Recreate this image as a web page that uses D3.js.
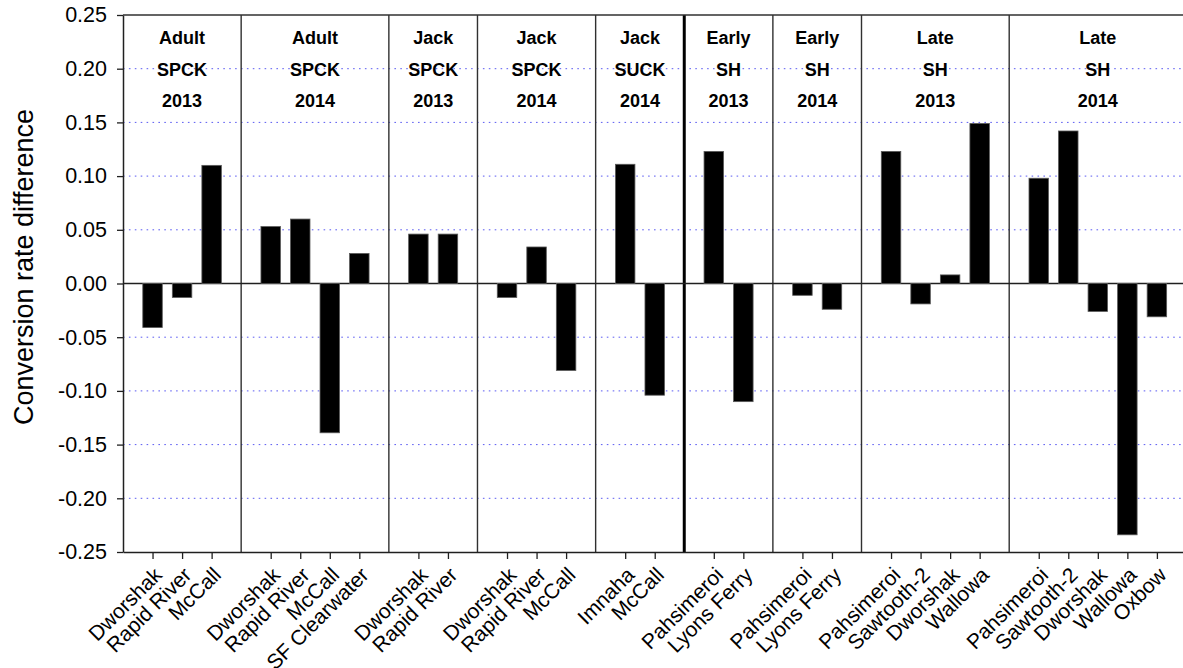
<!DOCTYPE html>
<html>
<head>
<meta charset="utf-8">
<script src="https://cdn.jsdelivr.net/npm/d3@7"></script>
<style>
  html, body { margin: 0; padding: 0; background: #fff; }
  svg { display: block; font-family: Arial, "Liberation Sans", sans-serif; }
</style>
</head>
<body>
<svg id="chart" width="1183" height="668"></svg>
<script>
// Release groups: three header lines each
const groupHeaders = [
  ["Adult", "SPCK", "2013"],
  ["Adult", "SPCK", "2014"],
  ["Jack", "SPCK", "2013"],
  ["Jack", "SPCK", "2014"],
  ["Jack", "SUCK", "2014"],
  ["Early", "SH", "2013"],
  ["Early", "SH", "2014"],
  ["Late", "SH", "2013"],
  ["Late", "SH", "2014"]
];

// Hatchery / stock names within each group
const groupSites = [
  ["Dworshak", "Rapid River", "McCall"],
  ["Dworshak", "Rapid River", "McCall", "SF Clearwater"],
  ["Dworshak", "Rapid River"],
  ["Dworshak", "Rapid River", "McCall"],
  ["Imnaha", "McCall"],
  ["Pahsimeroi", "Lyons Ferry"],
  ["Pahsimeroi", "Lyons Ferry"],
  ["Pahsimeroi", "Sawtooth-2", "Dworshak", "Wallowa"],
  ["Pahsimeroi", "Sawtooth-2", "Dworshak", "Wallowa", "Oxbow"]
];

// Conversion rate difference for each site
const groupValues = [
  [-0.041, -0.013, 0.110],
  [0.053, 0.060, -0.139, 0.028],
  [0.046, 0.046],
  [-0.013, 0.034, -0.081],
  [0.111, -0.104],
  [0.123, -0.110],
  [-0.011, -0.024],
  [0.123, -0.019, 0.008, 0.149],
  [0.098, 0.142, -0.026, -0.234, -0.031]
];

const yTicks = [0.25, 0.20, 0.15, 0.10, 0.05, 0.00, -0.05, -0.10, -0.15, -0.20, -0.25];
const yTitle = "Conversion rate difference";
// Heavy divider after this group (Chinook | steelhead)
const speciesBreakAfter = 4;

// ---- layout ----
const svg = d3.select("#chart");
const plotLeft = 123, plotTop = 15, plotBottom = 552;
const slotW = 29.54;

// Flatten groups into slot positions: each group gets one empty slot before its bars
const bars = [];
const boundaries = [];
let pos = 0;
groupSites.forEach((sites, g) => {
  const start = pos;
  sites.forEach((name, i) => {
    pos += 1;
    bars.push({ name, value: groupValues[g][i], pos, group: g });
  });
  pos += 1;
  boundaries.push({ pos, group: g });
  groupHeaders[g].start = start;
  groupHeaders[g].end = pos;
});
const totalSlots = pos;

const x = d3.scaleLinear().domain([0, totalSlots]).range([plotLeft, plotLeft + totalSlots * slotW]);
const y = d3.scaleLinear().domain([-0.25, 0.25]).range([plotBottom, plotTop]);
const xRight = x(totalSlots);

// Dotted gridlines
svg.append("g")
  .selectAll("line")
  .data(yTicks.filter(t => Math.abs(t) > 1e-9 && Math.abs(Math.abs(t) - 0.25) > 1e-9))
  .join("line")
  .attr("x1", plotLeft).attr("x2", xRight)
  .attr("y1", d => y(d)).attr("y2", d => y(d))
  .attr("stroke", "#5a5af2")
  .attr("stroke-width", 1)
  .attr("stroke-dasharray", "1.6,4.3");

// Group dividers
svg.append("g")
  .selectAll("line")
  .data(boundaries)
  .join("line")
  .attr("x1", d => x(d.pos)).attr("x2", d => x(d.pos))
  .attr("y1", plotTop).attr("y2", plotBottom)
  .attr("stroke", d => d.group === speciesBreakAfter ? "#000" : "#303030")
  .attr("stroke-width", d => d.group === speciesBreakAfter ? 3 : 1.4);

// Top frame
svg.append("line")
  .attr("x1", plotLeft).attr("x2", xRight)
  .attr("y1", y(0.25)).attr("y2", y(0.25))
  .attr("stroke", "#303030").attr("stroke-width", 1.6);

// Zero line
svg.append("line")
  .attr("x1", plotLeft).attr("x2", xRight)
  .attr("y1", y(0)).attr("y2", y(0))
  .attr("stroke", "#202020").attr("stroke-width", 1.3);

// Bars
const barW = slotW * 0.66;
svg.append("g")
  .selectAll("rect")
  .data(bars)
  .join("rect")
  .attr("x", d => x(d.pos) - barW / 2)
  .attr("width", barW)
  .attr("y", d => y(Math.max(0, d.value)))
  .attr("height", d => Math.abs(y(d.value) - y(0)))
  .attr("fill", "#000")
  .attr("stroke", "#5a5a5a")
  .attr("stroke-width", 0.8);

// Group headers
const headers = svg.append("g")
  .selectAll("text")
  .data(groupHeaders)
  .join("text")
  .attr("x", d => x((d.start + d.end) / 2))
  .attr("text-anchor", "middle")
  .attr("font-weight", "bold")
  .attr("font-size", 18)
  .attr("fill", "#000");
headers.selectAll("tspan")
  .data(d => d.map((line, i) => ({ line, i, cx: x((d.start + d.end) / 2) })))
  .join("tspan")
  .attr("x", d => d.cx)
  .attr("y", d => 44 + d.i * 31.5)
  .text(d => d.line);

// Y axis
const yAxis = svg.append("g")
  .attr("transform", `translate(${plotLeft},0)`)
  .call(d3.axisLeft(y).tickValues(yTicks).tickFormat(d => d.toFixed(2)).tickSize(6).tickSizeOuter(0).tickPadding(10));
yAxis.select(".domain").attr("stroke", "#202020").attr("stroke-width", 1.5);
yAxis.selectAll(".tick line").attr("stroke", "#202020").attr("stroke-width", 1.3);
yAxis.selectAll(".tick text")
  .attr("font-size", 21.5)
  .attr("font-family", "Arial, 'Liberation Sans', sans-serif")
  .attr("fill", "#000");

// X axis with rotated site labels
const xAxis = svg.append("g")
  .attr("transform", `translate(0,${plotBottom})`)
  .call(d3.axisBottom(x)
    .tickValues(bars.map(b => b.pos))
    .tickFormat((d, i) => bars[i].name)
    .tickSize(7).tickSizeOuter(0));
xAxis.select(".domain").attr("stroke", "#202020").attr("stroke-width", 1.5);
xAxis.selectAll(".tick line").attr("stroke", "#202020").attr("stroke-width", 1.3);
xAxis.selectAll(".tick text")
  .attr("font-size", 21)
  .attr("font-family", "Arial, 'Liberation Sans', sans-serif")
  .attr("fill", "#000")
  .attr("text-anchor", "end")
  .attr("x", 0).attr("y", 0).attr("dy", "0.35em")
  .attr("transform", "translate(5,19) rotate(-45)");

// Y title
svg.append("text")
  .attr("transform", "translate(33,267) rotate(-90)")
  .attr("text-anchor", "middle")
  .attr("font-size", 27)
  .attr("fill", "#000")
  .text(yTitle);
</script>
</body>
</html>
